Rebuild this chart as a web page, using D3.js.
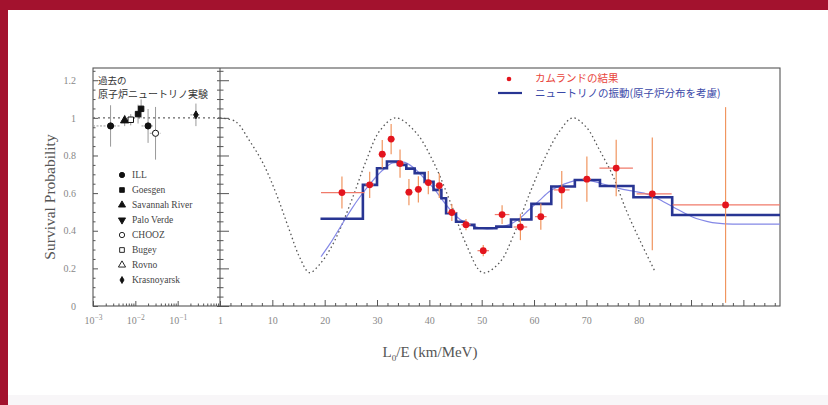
<!DOCTYPE html>
<html>
<head>
<meta charset="utf-8">
<script src="https://cdn.jsdelivr.net/npm/d3@7"></script>
<style>
  body { margin: 0; background: #fff; }
  svg { display: block; }
</style>
</head>
<body>
<div id="chart-area"></div>
<script>
// tick labels
const yTicks = [0, 0.2, 0.4, 0.6, 0.8, 1, 1.2];
const logTicks = [0.001, 0.01, 0.1, 1];
const linTicks = [10, 20, 30, 40, 50, 60, 70, 80];

// KamLAND points (L0/E, survival probability, errors)
const kamX = [23.3, 28.6, 31.0, 32.7, 34.4, 36.1, 37.9, 39.8, 41.9, 44.3, 47.0, 50.3, 53.9, 57.4, 61.3, 65.3, 70.1, 75.7, 82.6, 96.6];
const kamY = [0.603, 0.644, 0.807, 0.887, 0.757, 0.605, 0.62, 0.656, 0.64, 0.497, 0.432, 0.294, 0.486, 0.42, 0.475, 0.617, 0.674, 0.733, 0.596, 0.537];
const kamErr = [0.085, 0.07, 0.075, 0.08, 0.075, 0.07, 0.07, 0.062, 0.066, 0.045, 0.03, 0.03, 0.05, 0.07, 0.07, 0.1, 0.12, 0.15, 0.3, 0.52];
const kamXLo = [19.3, 27.8, 30.3, 32.0, 33.7, 35.4, 37.2, 39.1, 41.2, 43.4, 46.1, 49.2, 52.5, 56.1, 60.2, 63.8, 69.3, 72.5, 79.6, 86.5];
const kamXHi = [27.6, 29.4, 31.7, 33.4, 35.1, 36.8, 38.6, 40.5, 42.6, 45.2, 47.9, 51.4, 55.3, 58.7, 62.4, 66.8, 70.9, 78.9, 86.3, 107];

// oscillation histogram (bin edges and values)
const binEdges = [19.2, 27.3, 30.0, 31.9, 34.0, 35.6, 37.2, 39.1, 40.8, 42.3, 43.2, 45.1, 46.7, 48.6, 52.8, 55.6, 59.5, 63.3, 67.8, 72.6, 79.0, 86.4, 107];
const binVals = [0.464, 0.644, 0.732, 0.768, 0.75, 0.73, 0.706, 0.66, 0.617, 0.573, 0.493, 0.448, 0.431, 0.413, 0.422, 0.46, 0.543, 0.635, 0.67, 0.638, 0.578, 0.484];

// smooth oscillation curve
const curveX = [19.3, 21, 23, 25, 27, 29, 31, 33, 35, 37, 39, 41, 43, 45, 47, 49, 51, 53, 55, 57, 59, 61, 63, 65, 67, 69, 71, 73, 75, 77, 79, 81, 83, 85, 87, 89, 91, 93, 95, 98, 107];
const curveY = [0.262, 0.33, 0.42, 0.51, 0.59, 0.66, 0.72, 0.76, 0.765, 0.735, 0.68, 0.62, 0.545, 0.48, 0.44, 0.42, 0.41, 0.415, 0.43, 0.46, 0.51, 0.56, 0.61, 0.64, 0.66, 0.67, 0.665, 0.65, 0.635, 0.62, 0.61, 0.6, 0.58, 0.55, 0.52, 0.49, 0.465, 0.45, 0.44, 0.435, 0.435];

// dotted curve (no oscillation averaging)
const dotX = [0, 3, 5.6, 8.2, 10.7, 13.3, 15.2, 17.1, 19, 21, 22.8, 25.4, 27.9, 30.5, 33.6, 37.5, 40.7, 43.9, 47, 50.2, 53.4, 56, 59.2, 62.3, 64.9, 67.4, 70, 72.5, 75.1, 77.6, 80.2, 83];
const dotY = [1.0, 0.98, 0.88, 0.76, 0.6, 0.4, 0.26, 0.177, 0.22, 0.3, 0.4, 0.58, 0.77, 0.93, 1.0, 0.92, 0.77, 0.56, 0.33, 0.177, 0.23, 0.37, 0.6, 0.8, 0.93, 1.0, 0.95, 0.83, 0.69, 0.51, 0.35, 0.19];

// past reactor experiments
const oldNames = ["ILL", "Goesgen", "Savannah River", "Palo Verde", "CHOOZ", "Bugey", "Rovno", "Krasnoyarsk"];
const oldL = [0.0026, 0.0056, 0.0078, 0.0116, 0.0137, 0.02, 0.03, 0.27];
const oldP = [0.957, 0.986, 0.99, 1.02, 1.048, 0.957, 0.918, 1.016];
const oldErr = [0.11, 0.03, 0.03, 0.05, 0.05, 0.09, 0.14, 0.06];
const oldLo = [0.001, 0.0047, 0.0066, 0.0098, 0.0118, 0.014, 0.022, 0.2];
const oldHi = [0.0045, 0.0066, 0.0092, 0.0136, 0.016, 0.026, 0.04, 0.35];
const oldType = ["ILL", "Savannah River", "Bugey", "Goesgen", "Goesgen", "ILL", "CHOOZ", "Krasnoyarsk"];

const width = 828, height = 405;
const serif = "'Liberation Serif', 'DejaVu Serif', serif";
const jp = "'Noto Sans CJK JP', 'Noto Sans', sans-serif";

const svg = d3.select("#chart-area").append("svg").attr("width", width).attr("height", height);

// red page border
svg.append("rect").attr("width", width).attr("height", height).attr("fill", "#fff");
svg.append("rect").attr("width", width).attr("height", 10).attr("fill", "#a3122e");
svg.append("rect").attr("width", 8).attr("height", height).attr("fill", "#a3122e");
svg.append("rect").attr("x", 8).attr("y", 395).attr("width", width).attr("height", 10).attr("fill", "#f8f6f8");

// scales
const y = d3.scaleLinear().domain([0, 1.265]).range([306, 68]);
const xLog = d3.scaleLog().domain([1e-3, 1]).range([93, 220]);
const xLin = d3.scaleLinear().domain([0, 107]).range([220, 780]);

const yMinor = d3.range(0, 1.26, 0.05).filter(v => Math.abs(v * 5 - Math.round(v * 5)) > 1e-6);
const yMajor = [0, 0.2, 0.4, 0.6, 0.8, 1, 1.2];

function styleAxis(sel) {
  sel.select(".domain").remove();
  sel.selectAll("line").attr("stroke", "#555");
  sel.selectAll("text").attr("fill", "#888").attr("font-family", serif).attr("font-size", 10);
}

//frame
svg.append("rect").attr("x", 93).attr("y", 68).attr("width", 687).attr("height", 238)
  .attr("fill", "none").attr("stroke", "#555").attr("stroke-width", 1.1);
svg.append("line").attr("x1", 220).attr("x2", 220).attr("y1", 68).attr("y2", 306)
  .attr("stroke", "#555").attr("stroke-width", 1.1);

//y axis labels + left ticks
svg.append("g").attr("transform", "translate(93,0)")
  .call(d3.axisLeft(y).tickValues(yTicks).tickSize(0).tickPadding(17).tickFormat(d3.format("~g")))
  .call(styleAxis);
svg.append("g").attr("transform", "translate(93,0)")
  .call(d3.axisRight(y).tickValues(yMinor).tickSize(2.5).tickFormat("")).call(styleAxis);
svg.append("g").attr("transform", "translate(93,0)")
  .call(d3.axisRight(y).tickValues(yMajor).tickSize(5).tickFormat("")).call(styleAxis);

//middle axis ticks (both sides)
svg.append("g").attr("transform", "translate(220,0)")
  .call(d3.axisRight(y).tickValues(yMinor).tickSize(3.5).tickFormat("")).call(styleAxis);
svg.append("g").attr("transform", "translate(220,0)")
  .call(d3.axisRight(y).tickValues(yMajor).tickSize(9).tickFormat("")).call(styleAxis);
svg.append("g").attr("transform", "translate(220,0)")
  .call(d3.axisLeft(y).tickValues(d3.range(0, 1.26, 0.05)).tickSize(3).tickFormat("")).call(styleAxis);

//bottom log axis
const logMinor = [];
[0.001, 0.01, 0.1].forEach(d => d3.range(2, 10).forEach(k => logMinor.push(d * k)));
svg.append("g").attr("transform", "translate(0,306)")
  .call(d3.axisTop(xLog).tickValues(logMinor).tickSize(2.5).tickFormat("")).call(styleAxis);
svg.append("g").attr("transform", "translate(0,306)")
  .call(d3.axisTop(xLog).tickValues(logTicks).tickSize(5).tickFormat("")).call(styleAxis);
const logLab = svg.append("g").attr("transform", "translate(0,306)")
  .call(d3.axisBottom(xLog).tickValues(logTicks).tickSize(0).tickPadding(11).tickFormat(""))
  .call(styleAxis);
logLab.selectAll(".tick text").each(function(d) {
  const t = d3.select(this);
  const e = Math.round(Math.log10(d));
  if (e === 0) { t.text("1"); return; }
  t.append("tspan").text("10");
  t.append("tspan").attr("dy", "-0.5em").attr("font-size", 7.5).text("\u2212" + (-e));
});

//bottom linear axis
svg.append("g").attr("transform", "translate(0,306)")
  .call(d3.axisTop(xLin).tickValues(d3.range(2, 107, 2).filter(v => v % 10)).tickSize(3).tickFormat("")).call(styleAxis);
svg.append("g").attr("transform", "translate(0,306)")
  .call(d3.axisTop(xLin).tickValues(d3.range(10, 107, 10)).tickSize(6).tickFormat("")).call(styleAxis);
svg.append("g").attr("transform", "translate(0,306)")
  .call(d3.axisBottom(xLin).tickValues(linTicks).tickSize(0).tickPadding(11)).call(styleAxis);

//axis titles
svg.append("text").attr("transform", "translate(55,197) rotate(-90)")
  .attr("text-anchor", "middle").attr("font-family", serif).attr("font-size", 15.5)
  .attr("fill", "#555").text("Survival Probability");
const xt = svg.append("text").attr("x", 430).attr("y", 357).attr("text-anchor", "middle")
  .attr("font-family", serif).attr("font-size", 15).attr("fill", "#555");
xt.append("tspan").text("L");
xt.append("tspan").attr("dy", 4).attr("font-size", 9).text("0");
xt.append("tspan").attr("dy", -4).text("/E (km/MeV)");

//dotted line at 1 across past experiments
svg.append("line").attr("x1", xLog(0.001)).attr("x2", xLog(1)).attr("y1", y(1)).attr("y2", y(1))
  .attr("stroke", "#666").attr("stroke-width", 1.2).attr("stroke-dasharray", "2,3");

//past experiments
const symbolFor = {
  "ILL": [d3.symbolCircle, true],
  "Goesgen": [d3.symbolSquare, true],
  "Savannah River": [d3.symbolTriangle, true],
  "Palo Verde": [d3.symbolTriangle, true],
  "CHOOZ": [d3.symbolCircle, false],
  "Bugey": [d3.symbolSquare, false],
  "Rovno": [d3.symbolTriangle, false],
  "Krasnoyarsk": [d3.symbolDiamond, true]
};
const old = oldL.map((d, i) => ({ l: d, p: oldP[i], e: oldErr[i], lo: oldLo[i], hi: oldHi[i], t: oldType[i] }));
const og = svg.append("g");
og.selectAll(".oe").data(old).enter().append("line")
  .attr("x1", d => xLog(d.l)).attr("x2", d => xLog(d.l))
  .attr("y1", d => y(d.p - d.e)).attr("y2", d => y(d.p + d.e))
  .attr("stroke", "#999").attr("stroke-width", 1);
og.selectAll(".oh").data(old).enter().append("line")
  .attr("x1", d => xLog(d.lo)).attr("x2", d => xLog(d.hi))
  .attr("y1", d => y(d.p)).attr("y2", d => y(d.p))
  .attr("stroke", "#999").attr("stroke-width", 1).attr("stroke-dasharray", "2,1.5");
og.selectAll("path").data(old).enter().append("path")
  .attr("transform", d => "translate(" + xLog(d.l) + "," + y(d.p) + ")" + (d.t === "Palo Verde" ? " rotate(180)" : ""))
  .attr("d", d => d3.symbol().type(symbolFor[d.t][0]).size(d.t === "Krasnoyarsk" ? 18 : 30)())
  .attr("fill", d => symbolFor[d.t][1] ? "#111" : "#fff")
  .attr("stroke", "#111").attr("stroke-width", 1);

//left panel title
svg.append("text").attr("x", 98).attr("y", 84).attr("font-family", jp).attr("font-size", 9.5)
  .attr("fill", "#333").text("過去の");
svg.append("text").attr("x", 98).attr("y", 98).attr("font-family", jp).attr("font-size", 10)
  .attr("fill", "#333").text("原子炉ニュートリノ実験");

//left legend
const lg = svg.append("g").selectAll("g").data(oldNames).enter().append("g")
  .attr("transform", (d, i) => "translate(122," + (175 + i * 15) + ")");
lg.append("path")
  .attr("transform", d => d === "Palo Verde" ? "rotate(180)" : null)
  .attr("d", d => d3.symbol().type(symbolFor[d][0]).size(d === "Krasnoyarsk" ? 14 : 22)())
  .attr("fill", d => symbolFor[d][1] ? "#111" : "#fff")
  .attr("stroke", "#111").attr("stroke-width", 0.9);
lg.append("text").attr("x", 10).attr("dy", "0.35em").attr("font-family", serif).attr("font-size", 9.5)
  .attr("fill", "#444").text(d => d);

//dotted oscillation curve
svg.append("path")
  .datum(dotX.map((d, i) => [d, dotY[i]]))
  .attr("d", d3.line().x(d => xLin(d[0])).y(d => y(d[1])).curve(d3.curveCatmullRom.alpha(0.5)))
  .attr("fill", "none").attr("stroke", "#555").attr("stroke-width", 1.3).attr("stroke-dasharray", "1.5,2.8");

//thin smooth curve
svg.append("path")
  .datum(curveX.map((d, i) => [d, curveY[i]]))
  .attr("d", d3.line().x(d => xLin(d[0])).y(d => y(d[1])).curve(d3.curveMonotoneX))
  .attr("fill", "none").attr("stroke", "#8488e6").attr("stroke-width", 1.2);

//step histogram
const steps = [];
binVals.forEach((v, i) => { steps.push([binEdges[i], v]); steps.push([binEdges[i + 1], v]); });
svg.append("path")
  .datum(steps)
  .attr("d", d3.line().x(d => xLin(d[0])).y(d => y(d[1])))
  .attr("fill", "none").attr("stroke", "#283593").attr("stroke-width", 2.6);

//KamLAND data
const kam = kamX.map((d, i) => ({ x: d, y: kamY[i], e: kamErr[i], lo: kamXLo[i], hi: kamXHi[i] }));
const kg = svg.append("g");
kg.selectAll(".ve").data(kam).enter().append("line")
  .attr("x1", d => xLin(d.x)).attr("x2", d => xLin(d.x))
  .attr("y1", d => y(Math.max(0, d.y - d.e))).attr("y2", d => y(d.y + d.e))
  .attr("stroke", "#f0955f").attr("stroke-width", 1.2);
kg.selectAll(".he").data(kam).enter().append("line")
  .attr("x1", d => xLin(d.lo)).attr("x2", d => xLin(d.hi))
  .attr("y1", d => y(d.y)).attr("y2", d => y(d.y))
  .attr("stroke", "#f07a6a").attr("stroke-width", 1.2);
kg.selectAll("circle").data(kam).enter().append("circle")
  .attr("cx", d => xLin(d.x)).attr("cy", d => y(d.y)).attr("r", 3.4)
  .attr("fill", "#e3141d");

//legend right
svg.append("circle").attr("cx", 509).attr("cy", 79).attr("r", 2.3).attr("fill", "#e3141d");
svg.append("text").attr("x", 535).attr("y", 82).attr("font-family", jp).attr("font-size", 10.5)
  .attr("fill", "#e8453c").text("カムランドの結果");
svg.append("line").attr("x1", 498).attr("x2", 522).attr("y1", 93).attr("y2", 93)
  .attr("stroke", "#283593").attr("stroke-width", 2.2);
svg.append("text").attr("x", 535).attr("y", 97).attr("font-family", jp).attr("font-size", 10.5)
  .attr("fill", "#3a48a8").text("ニュートリノの振動(原子炉分布を考慮)");
</script>
</body>
</html>
